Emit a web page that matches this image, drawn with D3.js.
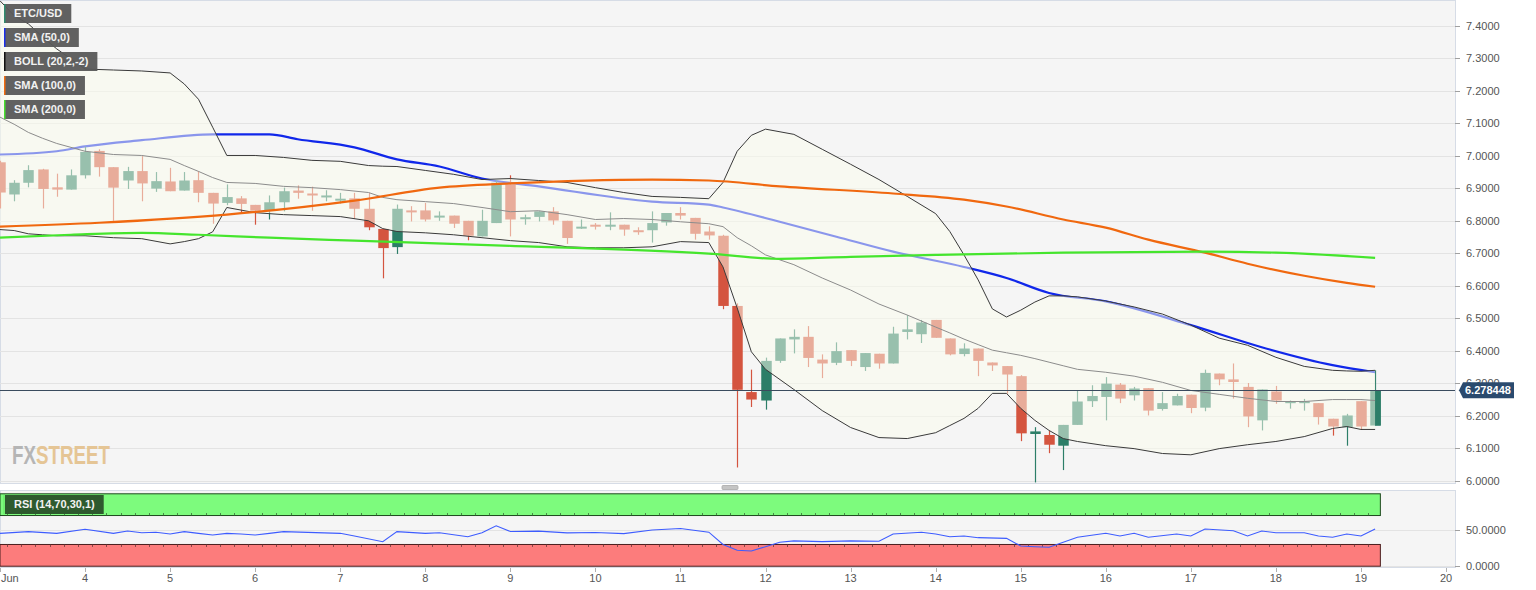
<!DOCTYPE html>
<html><head><meta charset="utf-8">
<script src="https://cdn.jsdelivr.net/npm/d3@7"></script>
<style>html,body{margin:0;padding:0;background:#fff;overflow:hidden}text{font-family:"Liberation Sans",Arial,sans-serif}</style>
</head><body><svg id="c" width="1536" height="590"></svg>
<script>
// ---------- DATA (ETC/USD, 4h candles from 3 Jun) ----------
const symbol = "ETC/USD";
const startDate = new Date(2020, 5, 3, 0, 0);
const open  = [6.980,6.881,6.917,6.958,6.903,6.896,6.940,7.015,6.965,6.924,6.953,6.899,6.921,6.893,6.925,6.886,6.855,6.869,6.849,6.832,6.857,6.893,6.884,6.872,6.864,6.869,6.837,6.775,6.719,6.832,6.832,6.814,6.816,6.800,6.752,6.793,6.912,6.807,6.812,6.829,6.800,6.779,6.788,6.785,6.788,6.771,6.771,6.795,6.824,6.809,6.767,6.754,6.538,6.273,6.247,6.369,6.435,6.443,6.373,6.363,6.402,6.350,6.391,6.361,6.458,6.451,6.495,6.438,6.390,6.407,6.364,6.353,6.322,6.144,6.141,6.108,6.172,6.245,6.258,6.296,6.263,6.285,6.221,6.232,6.265,6.225,6.330,6.312,6.289,6.186,6.275,6.242,6.243,6.239,6.191,6.165,6.245,6.170];
const high  = [6.985,6.925,6.971,6.960,6.945,6.958,7.028,7.020,6.965,6.966,6.999,6.950,6.963,6.950,6.953,6.886,6.912,6.876,6.849,6.878,6.902,6.909,6.905,6.894,6.886,6.886,6.886,6.775,6.850,6.845,6.855,6.829,6.816,6.800,6.834,6.925,6.940,6.819,6.829,6.842,6.800,6.804,6.793,6.826,6.788,6.780,6.829,6.824,6.842,6.809,6.783,6.757,6.546,6.342,6.379,6.438,6.466,6.476,6.389,6.426,6.402,6.393,6.391,6.474,6.510,6.495,6.495,6.438,6.423,6.407,6.364,6.353,6.325,6.165,6.154,6.172,6.278,6.294,6.319,6.301,6.289,6.285,6.273,6.268,6.265,6.342,6.330,6.361,6.301,6.281,6.292,6.247,6.252,6.239,6.191,6.206,6.245,6.340];
const low   = [6.838,6.860,6.903,6.838,6.874,6.896,6.930,6.936,6.800,6.898,6.860,6.889,6.891,6.893,6.857,6.791,6.848,6.826,6.788,6.804,6.829,6.868,6.831,6.860,6.853,6.806,6.771,6.623,6.698,6.798,6.798,6.800,6.778,6.740,6.752,6.793,6.752,6.788,6.798,6.788,6.729,6.775,6.773,6.771,6.754,6.757,6.733,6.785,6.804,6.742,6.742,6.528,6.041,6.227,6.219,6.363,6.392,6.350,6.316,6.356,6.353,6.338,6.345,6.361,6.435,6.424,6.440,6.386,6.383,6.322,6.338,6.268,6.122,5.995,6.085,6.033,6.172,6.227,6.186,6.239,6.247,6.201,6.216,6.232,6.208,6.214,6.294,6.253,6.165,6.155,6.237,6.222,6.216,6.173,6.139,6.108,6.157,6.170];
const close = [6.887,6.917,6.956,6.898,6.896,6.940,7.012,6.965,6.902,6.953,6.915,6.922,6.891,6.924,6.886,6.853,6.873,6.852,6.831,6.857,6.891,6.886,6.878,6.878,6.868,6.837,6.780,6.716,6.837,6.826,6.804,6.816,6.791,6.754,6.800,6.917,6.804,6.811,6.829,6.801,6.747,6.782,6.785,6.788,6.773,6.767,6.793,6.824,6.816,6.760,6.755,6.538,6.280,6.250,6.369,6.438,6.443,6.378,6.361,6.399,6.369,6.393,6.361,6.453,6.466,6.487,6.440,6.389,6.407,6.369,6.355,6.327,6.146,6.152,6.111,6.172,6.244,6.261,6.299,6.253,6.284,6.216,6.239,6.261,6.224,6.332,6.312,6.304,6.198,6.281,6.247,6.245,6.245,6.196,6.167,6.201,6.167,6.278448];
const lastPrice = 6.278448;

// Bollinger (20,2,-2), read at these candle indices
const bandIdx   = [0,1,2,3,4,6,8,10,12,13,14,15,16,18,20,22,24,26,27,28,30,32,34,36,38,40,42,44,46,48,50,51,52,53,54,56,58,60,62,64,66,67,68,69,70,71,72,73,74,75,76,78,80,82,84,86,88,90,92,94,95,96,97];
const bollUpper = [7.477,7.431,7.406,7.366,7.329,7.267,7.264,7.261,7.255,7.221,7.174,7.088,7.001,7.001,6.995,6.986,6.983,6.970,6.968,6.967,6.955,6.943,6.927,6.930,6.924,6.918,6.902,6.887,6.875,6.872,6.868,6.918,7.014,7.063,7.082,7.066,7.020,6.974,6.927,6.875,6.822,6.767,6.695,6.618,6.529,6.504,6.525,6.550,6.569,6.569,6.566,6.553,6.535,6.513,6.479,6.439,6.417,6.380,6.352,6.340,6.338,6.337,6.340];
const bollMid   = [7.119,7.097,7.072,7.054,7.038,7.014,7.004,7.001,6.989,6.970,6.952,6.933,6.918,6.915,6.906,6.902,6.896,6.887,6.872,6.865,6.859,6.853,6.841,6.828,6.831,6.819,6.804,6.807,6.804,6.797,6.791,6.782,6.748,6.723,6.695,6.665,6.624,6.587,6.544,6.510,6.473,6.455,6.436,6.419,6.402,6.394,6.386,6.376,6.365,6.354,6.343,6.334,6.322,6.303,6.278,6.266,6.254,6.244,6.244,6.250,6.250,6.250,6.247];
const bollLower = [6.773,6.770,6.760,6.757,6.754,6.754,6.748,6.745,6.729,6.736,6.745,6.766,6.841,6.825,6.819,6.816,6.813,6.800,6.776,6.767,6.763,6.757,6.748,6.739,6.733,6.720,6.717,6.717,6.720,6.736,6.733,6.658,6.532,6.397,6.343,6.281,6.216,6.164,6.133,6.130,6.148,6.170,6.192,6.223,6.269,6.269,6.223,6.186,6.155,6.130,6.121,6.108,6.099,6.084,6.080,6.099,6.111,6.121,6.136,6.161,6.167,6.158,6.158];

const sma50Idx  = [0,4,6,10,15,19,21,25,28,31,34,38,46,50,51,55,59,63,68,71,74,78,84,89,94,97];
const sma50     = [7.004,7.014,7.029,7.048,7.066,7.066,7.051,7.026,6.989,6.967,6.930,6.906,6.859,6.850,6.841,6.797,6.751,6.705,6.658,6.624,6.578,6.552,6.479,6.411,6.356,6.334];
const sma100Idx = [0,7,16,25,31,36,46,50,55,63,68,71,75,78,81,85,88,92,95,97];
const sma100    = [6.782,6.794,6.819,6.862,6.902,6.915,6.927,6.924,6.906,6.884,6.865,6.844,6.804,6.779,6.742,6.702,6.668,6.631,6.609,6.597];
const sma200Idx = [0,5,10,14,19,25,36,50,55,60,66,75,85,90,97];
const sma200    = [6.748,6.757,6.763,6.757,6.748,6.739,6.723,6.699,6.683,6.689,6.695,6.702,6.705,6.702,6.686];

// RSI (14,70,30,1)
const rsiIdx = [0,2,4,6,8,9,10,11,12,13,14,15,16,17,18,19,20,24,25,27,28,30,31,33,34,35,36,38,40,42,44,46,48,50,51,52,53,54,55,56,58,60,62,63,65,66,67,68,69,71,72,73,74,76,78,79,80,81,83,84,85,87,88,89,90,92,93,94,95,96,97];
const rsi    = [45.4,47.7,45.4,51.0,45.4,48.6,46.3,46.8,44.5,47.7,45.4,43.1,45.4,44.5,43.1,45.4,47.7,45.4,41.7,33.8,47.7,45.4,46.3,40.7,46.3,55.9,48.0,48.5,46.0,46.5,45.0,50.0,52.0,47.0,30.0,22.0,21.0,27.0,33.0,35.0,34.0,35.0,34.5,44.5,46.8,44.5,40.7,41.7,39.4,38.5,27.9,26.9,26.1,39.9,45.4,41.7,45.4,39.9,44.5,41.7,51.4,49.0,41.7,48.6,46.3,46.3,41.7,39.9,44.5,41.7,51.4];
const rsiLevels = [30, 70];

const priceTicks = [6.0,6.1,6.2,6.3,6.4,6.5,6.6,6.7,6.8,6.9,7.0,7.1,7.2,7.3,7.4];
const rsiTicks = [0, 50];
const dayTicks = [3,4,5,6,7,8,9,10,11,12,13,14,15,16,17,18,19,20];
const legendItems = ["ETC/USD","SMA (50,0)","BOLL (20,2,-2)","SMA (100,0)","SMA (200,0)"];
const legendColors = ["#2e8b6e","#1a2ee8","#111111","#f26b0f","#46e02e"];

// ---------- SCALES ----------
const svg = d3.select("#c");
const PW = 1455, PH = 483;
const x = d3.scaleTime().domain([new Date(2020,5,3), new Date(2020,5,20)]).range([0,1446]);
const y = d3.scaleLinear().domain([6.0,7.4]).range([480.8,25.8]);
const yR = d3.scaleLinear().domain([0,100]).range([566.2,493.8]);
const tOf = i => new Date(+startDate + i*4*3600e3);
const xi = i => x(tOf(i));
const step = xi(1) - xi(0);
const cw = step*0.74;

const defs = svg.append("defs");
defs.append("clipPath").attr("id","mainClip").append("rect").attr("x",0).attr("y",0).attr("width",PW).attr("height",PH);
defs.append("clipPath").attr("id","rsiClip").append("rect").attr("x",0).attr("y",490).attr("width",PW).attr("height",78);

// main panel
svg.append("rect").attr("x",0.5).attr("y",0.5).attr("width",PW).attr("height",PH).attr("fill","#f5f5f5").attr("stroke","#d6dce6");
const g = svg.append("g").attr("clip-path","url(#mainClip)");
g.selectAll(".grid").data(priceTicks).join("line")
  .attr("x1",0).attr("x2",PW).attr("y1",d=>Math.round(y(d))+0.5).attr("y2",d=>Math.round(y(d))+0.5)
  .attr("stroke","#e3e3e3").attr("stroke-width",1);

function linePath(idx, vals, curve){
  return d3.line().curve(curve || d3.curveLinear).x((d,i)=>xi(idx[i])).y(d=>y(d))(vals);
}
const smooth = d3.curveMonotoneX;
// SMA 50 under band fill
g.append("path").attr("d",linePath(sma50Idx,sma50,smooth)).attr("fill","none").attr("stroke","#1027ea").attr("stroke-width",2.2);

// candles (dark colors, lightened inside band by overlay)
const N = open.length;
const idxs = d3.range(N);
const bearC = "#d4543f", bullC = "#2c7e68";
const col = i => close[i] >= open[i] ? bullC : bearC;
g.selectAll(".wick").data(idxs).join("line")
  .attr("x1",i=>Math.round(xi(i))+0.5).attr("x2",i=>Math.round(xi(i))+0.5)
  .attr("y1",i=>y(high[i])).attr("y2",i=>y(low[i]))
  .attr("stroke",col).attr("stroke-width",1.2);
g.selectAll(".body").data(idxs).join("rect")
  .attr("x",i=>Math.round(xi(i))+0.5-cw/2).attr("width",cw)
  .attr("y",i=>y(Math.max(open[i],close[i])))
  .attr("height",i=>Math.max(2, Math.abs(y(open[i])-y(close[i]))))
  .attr("fill",col);

// Bollinger fill (semi transparent overlay)
const bandData = bandIdx.map((k,i)=>({k, u:bollUpper[i], m:bollMid[i], l:bollLower[i]}));
g.append("path").datum(bandData)
  .attr("d", d3.area().x(d=>xi(d.k)).y0(d=>y(d.l)).y1(d=>y(d.u)))
  .attr("fill","rgb(251,254,238)").attr("fill-opacity",0.52);
g.append("path").attr("d",linePath(bandIdx,bollUpper)).attr("fill","none").attr("stroke","#3a3a3a").attr("stroke-width",1);
g.append("path").attr("d",linePath(bandIdx,bollLower)).attr("fill","none").attr("stroke","#3a3a3a").attr("stroke-width",1);
g.append("path").attr("d",linePath(bandIdx,bollMid)).attr("fill","none").attr("stroke","#8c8c8c").attr("stroke-width",1);

g.append("path").attr("d",linePath(sma100Idx,sma100,smooth)).attr("fill","none").attr("stroke","#f0680f").attr("stroke-width",2.2);
g.append("path").attr("d",linePath(sma200Idx,sma200,smooth)).attr("fill","none").attr("stroke","#45e52d").attr("stroke-width",2.2);

// current candle highlight
const L = N-1;
g.append("rect").attr("x",Math.round(xi(L))+0.5).attr("width",cw/2)
  .attr("y",y(Math.max(open[L],close[L]))).attr("height",Math.abs(y(open[L])-y(close[L])))
  .attr("fill",col(L));

// last price line
g.append("line").attr("x1",0).attr("x2",PW).attr("y1",Math.round(y(lastPrice))+0.5).attr("y2",Math.round(y(lastPrice))+0.5)
  .attr("stroke","#3a4b5e").attr("stroke-width",1);

// right axis
const ax = svg.append("g");
ax.selectAll("line").data(priceTicks).join("line")
  .attr("x1",PW).attr("x2",PW+5).attr("y1",d=>Math.round(y(d))+0.5).attr("y2",d=>Math.round(y(d))+0.5).attr("stroke","#a0a0a0");
ax.selectAll("text").data(priceTicks).join("text")
  .attr("x",PW+11).attr("y",d=>y(d)).attr("dy","0.35em").attr("font-size",11).attr("fill","#555")
  .text(d=>d3.format(".4f")(d));
// price tag
const py = y(lastPrice);
svg.append("path").attr("d",`M${PW+4},${py} L${PW+8},${py-8} L${PW+59},${py-8} L${PW+59},${py+8} L${PW+8},${py+8} Z`).attr("fill","#2a4a6e");
svg.append("text").attr("x",PW+10).attr("y",py).attr("dy","0.36em").attr("font-size",11).attr("font-weight","bold").attr("fill","#fff").text(d3.format(".6f")(lastPrice));

// legends
const lg = svg.append("g");
legendItems.forEach((t,i)=>{
  const gy = 4 + i*24;
  const tx = lg.append("text").attr("x",14).attr("y",gy+9.5).attr("dy","0.35em").attr("font-size",11).attr("font-weight","bold").attr("fill","#f2f2f2").text(t);
  const w = tx.node().getComputedTextLength();
  lg.insert("rect","text").attr("x",4).attr("y",gy).attr("width",w+19).attr("height",19).attr("fill","#595959").attr("fill-opacity",0.95);
  lg.insert("rect","text").attr("x",4).attr("y",gy).attr("width",1.5).attr("height",19).attr("fill",legendColors[i]);
});

// FXSTREET logo (single text, two colours)
const logo = svg.append("text").attr("x",12).attr("y",464).attr("font-size",26).attr("font-weight","bold").attr("textLength",98).attr("lengthAdjust","spacingAndGlyphs");
logo.append("tspan").attr("fill","#b5b5b5").text("FX");
logo.append("tspan").attr("fill","#e5c595").text("STREET");

// handle
svg.append("rect").attr("x",722).attr("y",485.5).attr("width",16).attr("height",4).attr("rx",1).attr("fill","#c4c4c4").attr("stroke","#a8a8a8").attr("stroke-width",0.8);

// ---------- RSI panel ----------
svg.append("rect").attr("x",0.5).attr("y",490.5).attr("width",PW).attr("height",77).attr("fill","#f5f5f5").attr("stroke","#d6dce6");
const rg = svg.append("g").attr("clip-path","url(#rsiClip)");
rg.selectAll(".rg").data(rsiTicks).join("line").attr("x1",0).attr("x2",PW)
  .attr("y1",d=>Math.round(yR(d))+0.5).attr("y2",d=>Math.round(yR(d))+0.5).attr("stroke","#e3e3e3");
const bx0 = 0, bx1 = xi(L)+cw/2;
rg.append("rect").attr("x",bx0).attr("y",yR(100)).attr("width",bx1-bx0).attr("height",yR(rsiLevels[1])-yR(100))
  .attr("fill","#7dfb7d").attr("stroke","#1e4a1e").attr("stroke-width",1);
rg.append("rect").attr("x",bx0).attr("y",yR(rsiLevels[0])).attr("width",bx1-bx0).attr("height",yR(0)-yR(rsiLevels[0]))
  .attr("fill","#fc7c7c").attr("stroke","#4a1e1e").attr("stroke-width",1);
// small per-candle ticks on band edges
rg.selectAll(".tg").data(idxs.slice(0,-1)).join("line")
  .attr("x1",i=>Math.round(xi(i)+step/2)+0.5).attr("x2",i=>Math.round(xi(i)+step/2)+0.5)
  .attr("y1",yR(rsiLevels[1])-2.5).attr("y2",yR(rsiLevels[1])).attr("stroke","#3a6a3a").attr("stroke-width",0.8);
rg.selectAll(".tr").data(idxs.slice(0,-1)).join("line")
  .attr("x1",i=>Math.round(xi(i)+step/2)+0.5).attr("x2",i=>Math.round(xi(i)+step/2)+0.5)
  .attr("y1",yR(rsiLevels[0])).attr("y2",yR(rsiLevels[0])+2.5).attr("stroke","#6a3a3a").attr("stroke-width",0.8);
rg.append("path").attr("d",d3.line().x((d,i)=>xi(rsiIdx[i])).y(d=>yR(d))(rsi)).attr("fill","none").attr("stroke","#3d5cff").attr("stroke-width",1.1);

// RSI legend
const rl = svg.append("g");
const rt = rl.append("text").attr("x",14).attr("y",504.5).attr("dy","0.35em").attr("font-size",11).attr("font-weight","bold").attr("fill","#f2f2f2").text("RSI (14,70,30,1)");
const rw = rt.node().getComputedTextLength();
rl.insert("rect","text").attr("x",3).attr("y",495).attr("width",rw+20).attr("height",19).attr("fill","#2e5a2e");
rl.insert("rect","text").attr("x",3).attr("y",495).attr("width",2).attr("height",19).attr("fill","#6ef06e");

// RSI axis
const rax = svg.append("g");
rax.selectAll("line").data(rsiTicks).join("line").attr("x1",PW).attr("x2",PW+5)
  .attr("y1",d=>Math.round(yR(d))+0.5).attr("y2",d=>Math.round(yR(d))+0.5).attr("stroke","#a0a0a0");
rax.selectAll("text").data(rsiTicks).join("text").attr("x",PW+11).attr("y",d=>yR(d)).attr("dy","0.35em")
  .attr("font-size",11).attr("fill","#555").text(d=>d3.format(".4f")(d));

// x axis
const xa = svg.append("g");
xa.selectAll("line").data(dayTicks).join("line")
  .attr("x1",d=>Math.round(x(new Date(2020,5,d)))+0.5).attr("x2",d=>Math.round(x(new Date(2020,5,d)))+0.5)
  .attr("y1",568).attr("y2",572).attr("stroke","#b0b0b0");
xa.selectAll("text").data(dayTicks).join("text")
  .attr("x",d=> d===3 ? 1 : x(new Date(2020,5,d)))
  .attr("text-anchor",d=> d===3 ? "start" : "middle")
  .attr("y",582).attr("font-size",11).attr("fill","#555")
  .text(d=> d===3 ? "Jun" : String(d));
</script></body></html>
